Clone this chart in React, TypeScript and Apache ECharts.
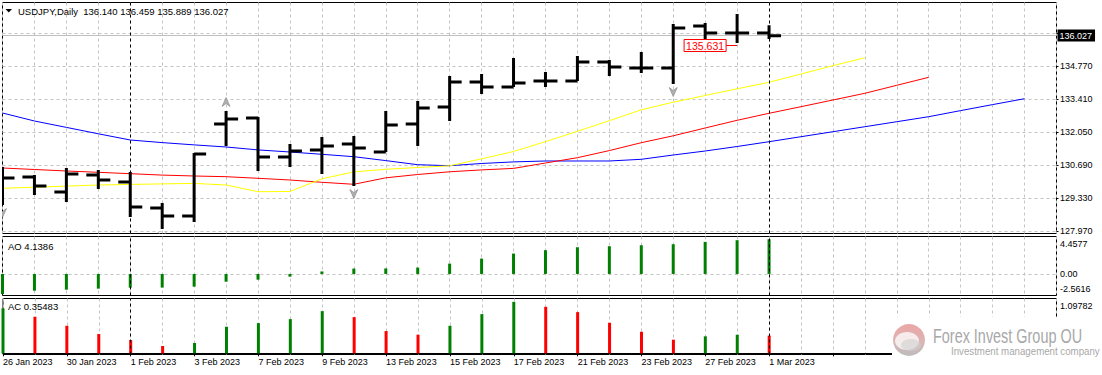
import React, { useEffect, useRef } from 'react';
import * as echarts from 'echarts';

const FONT = "'Liberation Sans', Arial, sans-serif";

const instrument = 'USDJPY,Daily';
const dates = [
  '26 Jan 2023', '27 Jan 2023', '30 Jan 2023', '31 Jan 2023', '1 Feb 2023', '2 Feb 2023', '3 Feb 2023',
  '6 Feb 2023', '7 Feb 2023', '8 Feb 2023', '9 Feb 2023', '10 Feb 2023', '13 Feb 2023', '14 Feb 2023',
  '15 Feb 2023', '16 Feb 2023', '17 Feb 2023', '20 Feb 2023', '21 Feb 2023', '22 Feb 2023', '23 Feb 2023',
  '24 Feb 2023', '27 Feb 2023', '28 Feb 2023', '1 Mar 2023',
];
const emptySlots = 9;

const opens = [129.87, 130.203, 129.585, 130.286, 129.997, 128.926, 128.596, 132.388, 132.635, 131.028, 131.316, 131.563, 131.234, 132.388, 133.088, 134.119, 133.913, 134.16, 134.16, 134.943, 134.696, 134.696, 136.426, 136.138, 136.14];
const highs = [130.616, 130.286, 130.574, 130.492, 130.41, 129.132, 131.193, 132.923, 132.676, 131.563, 131.852, 131.893, 132.923, 133.336, 134.366, 134.448, 135.108, 134.531, 135.19, 135.025, 135.355, 136.509, 136.55, 136.921, 136.459];
const lows = [129.05, 129.462, 129.173, 129.709, 128.555, 128.06, 128.349, 131.481, 130.451, 130.616, 130.327, 129.833, 131.234, 131.481, 132.511, 133.624, 133.913, 133.913, 134.16, 134.366, 134.49, 134.036, 135.891, 135.726, 135.889];
const closes = [130.162, 129.833, 130.327, 130.08, 128.967, 128.596, 131.151, 132.594, 131.028, 131.275, 131.481, 131.399, 132.346, 133.047, 134.119, 133.913, 134.077, 134.16, 134.943, 134.737, 134.696, 136.344, 136.138, 136.138, 136.027];

// Alligator lines (already shifted forward)
const jaw = [132.841, 132.511, 132.248, 131.984, 131.728, 131.621, 131.527, 131.44, 131.32, 131.234, 131.139, 131.04, 130.879, 130.71, 130.669, 130.76, 130.826, 130.863, 130.863, 130.863, 130.933, 131.11, 131.275, 131.46, 131.658, 131.864, 132.07, 132.276, 132.482, 132.689, 132.94, 133.187, 133.43];
const teeth = [130.574, 130.513, 130.451, 130.397, 130.34, 130.282, 130.245, 130.216, 130.15, 130.08, 129.985, 129.903, 130.17, 130.307, 130.418, 130.496, 130.558, 130.78, 130.999, 131.292, 131.617, 131.901, 132.223, 132.54, 132.829, 133.101, 133.377, 133.653, 133.983, 134.312];
const lips = [129.738, 129.783, 129.828, 129.874, 129.898, 129.919, 129.94, 129.874, 129.598, 129.606, 130.129, 130.414, 130.521, 130.595, 130.665, 130.953, 131.254, 131.662, 132.087, 132.524, 132.973, 133.286, 133.562, 133.838, 134.106, 134.448, 134.79, 135.12];

const fractalUpIdx = [7];
const fractalDownIdx = [0, 5, 11, 21];

const ao = [-2.39, -1.99, -1.87, -1.75, -1.63, -1.62, -1.51, -0.92, -0.68, -0.32, 0.3, 0.64, 0.66, 0.76, 1.23, 1.83, 2.43, 2.83, 3.18, 3.3, 3.42, 3.54, 3.82, 4.02, 4.1386];
const ac = [0.9, 0.732, 0.552, 0.386, 0.266, 0.146, 0.206, 0.532, 0.605, 0.685, 0.845, 0.725, 0.446, 0.373, 0.552, 0.785, 1.031, 0.931, 0.825, 0.612, 0.432, 0.273, 0.34, 0.372, 0.35483];

const priceGridTicks = [127.97, 129.33, 130.69, 132.05, 133.41, 134.77, 136.13];
const priceTickLabels = [127.97, 129.33, 130.69, 132.05, 133.41, 134.77];
const aoTicks = [4.4577, 0, -2.5616];
const aoTickLabels = ['4.4577', '0.00', '-2.5616'];
const acTicks = [1.09782];
const acTickLabels = ['1.09782'];
const separatorDates = ['1 Feb 2023', '1 Mar 2023'];
const priceLabel = { date: '28 Feb 2023', value: 135.631 };

const GRID_L = 2.5;
const GRID_W = 1054;
const GRID_LINE = { color: '#c4c4c4', type: [3, 3] as any, width: 1 };

export default function App() {
  const ref = useRef<HTMLDivElement>(null);
  useEffect(() => {
    if (!ref.current) return;
    const chart = echarts.init(ref.current, undefined, { renderer: 'svg' });
    const cats = [...dates, ...Array(emptySlots).fill('')];
    const n = dates.length;
    const ohlc = dates.map((_, i) => [i, opens[i], highs[i], lows[i], closes[i]]);
    const fractals = [
      ...fractalUpIdx.map((i) => [i, highs[i], 1]),
      ...fractalDownIdx.map((i) => [i, lows[i], -1]),
    ];
    const sepIdx = separatorDates.map((d) => dates.indexOf(d));
    const sepLine = {
      silent: true,
      symbol: ['none', 'none'],
      label: { show: false },
      lineStyle: { color: '#000', type: [3, 3] as any, width: 1 },
      data: sepIdx.map((i) => ({ xAxis: i })),
    };
    const colorUp = (arr: number[]) =>
      arr.map((v, i) => ({ value: v, itemStyle: { color: i === 0 || v > arr[i - 1] ? '#008000' : '#ff0000' } }));

    const xAxisBase = (gridIndex: number, labels: boolean) => ({
      type: 'category',
      gridIndex,
      data: cats,
      boundaryGap: false,
      axisLine: { show: labels, lineStyle: { color: '#000' } },
      axisTick: { show: labels, interval: 1, length: 3, lineStyle: { color: '#000' } },
      axisLabel: {
        show: labels, interval: 1, align: 'left', margin: 3, fontSize: 9, color: '#000', fontFamily: FONT,
      },
      splitLine: { show: true, interval: 0, lineStyle: GRID_LINE },
    });

    const lab = (extra: any) => ({
      fontSize: 9, color: '#000', fontFamily: FONT, ...extra,
    });

    const last = n - 1;
    const title = `${instrument}  ${opens[last].toFixed(3)} ${highs[last].toFixed(3)} ${lows[last].toFixed(3)} ${closes[last].toFixed(3)}`;
    const pIdx = dates.indexOf(priceLabel.date);

    chart.setOption({
      animation: false,
      backgroundColor: '#fff',
      grid: [
        { left: GRID_L, top: 2.5, width: GRID_W, height: 231, show: true, borderColor: '#000', borderWidth: 1, backgroundColor: 'transparent' },
        { left: GRID_L, top: 236.5, width: GRID_W, height: 59, show: true, borderColor: '#000', borderWidth: 1 },
        { left: GRID_L, top: 298.5, width: GRID_W, height: 56, show: true, borderColor: '#000', borderWidth: 1 },
      ],
      xAxis: [xAxisBase(0, false), xAxisBase(1, false), xAxisBase(2, true)],
      yAxis: [
        {
          type: 'value', gridIndex: 0, position: 'right', min: 127.875, max: 137.395,
          axisLine: { show: false },
          axisTick: { show: true, length: 2, lineStyle: { color: '#000' }, customValues: priceGridTicks },
          splitLine: { show: true, lineStyle: GRID_LINE },
          axisLabel: { ...lab({}), margin: 3.5, customValues: priceTickLabels, formatter: (v: number) => v.toFixed(3) },
        },
        {
          type: 'value', gridIndex: 1, position: 'right', min: aoTicks[2], max: aoTicks[0],
          axisLine: { show: false },
          axisTick: { show: false, customValues: [0] },
          splitLine: { show: true, lineStyle: GRID_LINE },
          axisLabel: {
            ...lab({}), margin: 3.5, customValues: aoTicks,
            formatter: (v: number) => {
              const k = aoTicks.indexOf(v);
              const t = k >= 0 ? aoTickLabels[k] : String(v);
              if (k === 0) return `{t|${t}}`;
              if (k === 2) return `{b|${t}}`;
              return t;
            },
            rich: {
              t: lab({ padding: [14, 0, 0, 0] }),
              b: lab({ padding: [0, 0, 14, 0] }),
            },
          },
        },
        {
          type: 'value', gridIndex: 2, position: 'right', min: -0.024, max: acTicks[0],
          axisLine: { show: false },
          axisTick: { show: false, customValues: [0] },
          splitLine: { show: true, lineStyle: GRID_LINE },
          axisLabel: {
            ...lab({}), margin: 3.5, customValues: acTicks,
            formatter: (v: number) => {
              const k = acTicks.indexOf(v);
              return `{t|${k >= 0 ? acTickLabels[k] : String(v)}}`;
            },
            rich: { t: lab({ padding: [14, 0, 0, 0] }) },
          },
        },
      ],
      series: [
        { type: 'line', xAxisIndex: 0, yAxisIndex: 0, data: jaw, symbol: 'none', silent: true, lineStyle: { color: '#0000ff', width: 1 }, z: 2 },
        { type: 'line', xAxisIndex: 0, yAxisIndex: 0, data: teeth, symbol: 'none', silent: true, lineStyle: { color: '#ff0000', width: 1 }, z: 2 },
        { type: 'line', xAxisIndex: 0, yAxisIndex: 0, data: lips, symbol: 'none', silent: true, lineStyle: { color: '#ffff00', width: 1 }, z: 2 },
        {
          type: 'custom', xAxisIndex: 0, yAxisIndex: 0, data: ohlc, clip: true, z: 5,
          encode: { x: 0, y: [1, 2, 3, 4] },
          renderItem: (params: any, api: any) => {
            const i = api.value(0);
            const o = api.coord([i, api.value(1)]);
            const h = api.coord([i, api.value(2)]);
            const l = api.coord([i, api.value(3)]);
            const c = api.coord([i, api.value(4)]);
            const x = o[0];
            const st = { stroke: '#000', lineWidth: 3 };
            return {
              type: 'group',
              children: [
                { type: 'line', shape: { x1: x, y1: h[1], x2: x, y2: l[1] }, style: st },
                { type: 'line', shape: { x1: x - 12, y1: o[1], x2: x, y2: o[1] }, style: st },
                { type: 'line', shape: { x1: x, y1: c[1], x2: x + 12, y2: c[1] }, style: st },
              ],
            };
          },
          markLine: {
            silent: true,
            symbol: ['none', 'none'],
            data: [
              {
                yAxis: closes[last],
                lineStyle: { color: '#c0c0c0', type: 'solid', width: 1 },
                label: {
                  show: true, position: 'end', distance: 1, formatter: closes[last].toFixed(3),
                  backgroundColor: '#000', color: '#fff', padding: [2, 3, 1, 2], fontSize: 9, fontFamily: FONT,
                },
              },
              ...sepIdx.map((i) => ({
                xAxis: i,
                lineStyle: { color: '#000', type: [3, 3], width: 1 },
                label: { show: false },
              })),
            ],
          },
        },
        {
          type: 'custom', xAxisIndex: 0, yAxisIndex: 0, data: fractals, clip: true, z: 6,
          encode: { x: 0, y: 1 },
          renderItem: (params: any, api: any) => {
            const p = api.coord([api.value(0), api.value(1)]);
            const dir = api.value(2);
            const cx = p[0];
            if (dir > 0) {
              const cy = p[1] - 9;
              return {
                type: 'polygon',
                shape: { points: [[cx, cy - 4.5], [cx + 4, cy + 4.5], [cx, cy + 1.5], [cx - 4, cy + 4.5]] },
                style: { fill: '#b0b0b0', stroke: '#808080', lineWidth: 0.6 },
              };
            }
            const cy = p[1] + 8;
            return {
              type: 'polygon',
              shape: { points: [[cx - 4, cy - 4.5], [cx, cy - 1.5], [cx + 4, cy - 4.5], [cx, cy + 4.5]] },
              style: { fill: '#b0b0b0', stroke: '#808080', lineWidth: 0.6 },
            };
          },
        },
        {
          type: 'custom', xAxisIndex: 0, yAxisIndex: 0, data: [[pIdx, priceLabel.value]], clip: false, z: 7,
          encode: { x: 0, y: 1 },
          renderItem: (params: any, api: any) => {
            const p = api.coord([api.value(0), api.value(1)]);
            const x = p[0];
            const y = Math.round(p[1]) + 0.5;
            return {
              type: 'group',
              children: [
                { type: 'line', shape: { x1: x - 11, y1: y, x2: x, y2: y }, style: { stroke: '#ff0000', lineWidth: 1 } },
                { type: 'rect', shape: { x: x - 53, y: y - 6, width: 42, height: 12 }, style: { fill: '#fff', stroke: '#ff0000', lineWidth: 1 } },
                {
                  type: 'text', x: x - 32, y: y + 0.5,
                  style: { text: api.value(1).toFixed(3), fontSize: 10.5, fontFamily: FONT, fill: '#ff0000', align: 'center', verticalAlign: 'middle' },
                },
              ],
            };
          },
        },
        {
          type: 'bar', xAxisIndex: 1, yAxisIndex: 1, data: colorUp(ao), barWidth: 3, silent: true,
          markLine: sepLine,
        },
        {
          type: 'bar', xAxisIndex: 2, yAxisIndex: 2, data: colorUp(ac), barWidth: 3, silent: true,
          markLine: sepLine,
        },
      ],
      graphic: [
        { type: 'polygon', z: 100, shape: { points: [[5.5, 9], [12, 9], [8.75, 12.5]] }, style: { fill: '#000' } },
        { type: 'text', z: 100, x: 18, y: 11, style: { text: title, fontSize: 9.5, fontFamily: FONT, fill: '#000', verticalAlign: 'middle' } },
        { type: 'text', z: 100, x: 8, y: 246, style: { text: `AO ${ao[last]}`, fontSize: 9.5, fontFamily: FONT, fill: '#000', verticalAlign: 'middle' } },
        { type: 'text', z: 100, x: 8, y: 306.5, style: { text: `AC ${ac[last]}`, fontSize: 9.5, fontFamily: FONT, fill: '#000', verticalAlign: 'middle' } },
        // watermark logo
        { type: 'rect', z: 100, shape: { x: 892, y: 317, width: 210, height: 58 }, style: { fill: '#fff' } },
        {
          type: 'circle', z: 101, shape: { cx: 909, cy: 340, r: 16 },
          style: {
            fill: new echarts.graphic.LinearGradient(0, 0, 0, 1, [
              { offset: 0, color: '#eba6a6' },
              { offset: 0.55, color: '#dcb4b4' },
              { offset: 1, color: '#bcbcbc' },
            ]),
          },
        },
        { type: 'ellipse', z: 102, shape: { cx: 907, cy: 341, rx: 12, ry: 9 }, style: { fill: '#fff', opacity: 0.75 } },
        { type: 'ellipse', z: 103, shape: { cx: 911, cy: 345, rx: 10, ry: 6 }, style: { fill: '#d0d0d0', opacity: 0.6 } },
        {
          type: 'text', z: 101, x: 933, y: 336, scaleX: 0.74,
          style: { text: 'Forex Invest Group OU', fontSize: 19.5, fontFamily: FONT, fill: '#a8a8a8', verticalAlign: 'middle' },
        },
        {
          type: 'text', z: 101, x: 951, y: 351.5, scaleX: 0.97,
          style: { text: 'Investment management company', fontSize: 10, fontFamily: FONT, fill: '#a8a8a8', verticalAlign: 'middle' },
        },
      ],
    });
    return () => chart.dispose();
  }, []);
  return <div ref={ref} style={{ position: 'fixed', left: 0, top: 0, width: 1102, height: 375, background: '#fff' }} />;
}
